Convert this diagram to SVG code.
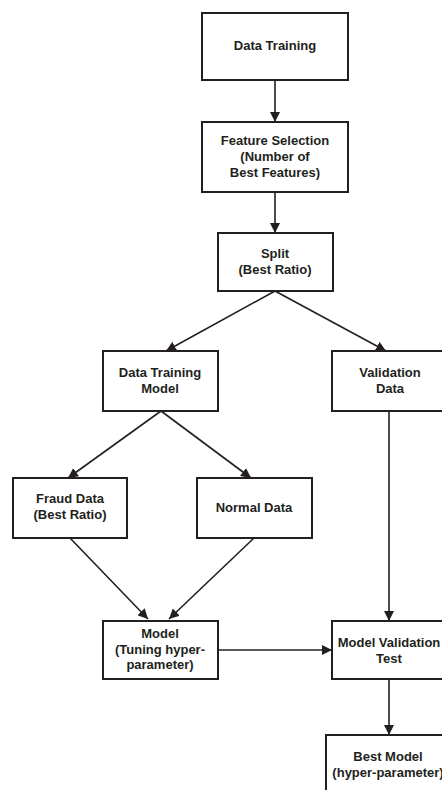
<svg xmlns="http://www.w3.org/2000/svg" width="442" height="790" viewBox="0 0 442 790">
<defs>
<marker id="ah" viewBox="0 0 10 10" refX="10" refY="5" markerWidth="10" markerHeight="10" markerUnits="userSpaceOnUse" orient="auto">
<path d="M0,0 L10,5 L0,10 z" fill="#231f20"/>
</marker>
<style>
.box{fill:#fff;stroke:#231f20;stroke-width:2}
.t{font-family:"Liberation Sans",Arial,sans-serif;font-weight:bold;font-size:13px;fill:#231f20;text-anchor:middle}
.c{stroke:#231f20;stroke-width:1.6;fill:none;marker-end:url(#ah)}
</style>
</defs>
<rect width="442" height="790" fill="#fff"/>
<g id="connectors">
<line class="c" x1="275" y1="80" x2="275" y2="122"/>
<line class="c" x1="275" y1="192" x2="275" y2="233"/>
<line class="c" x1="275" y1="291" x2="166" y2="351"/>
<line class="c" x1="275" y1="291" x2="386" y2="351"/>
<line class="c" x1="161" y1="411" x2="68" y2="478"/>
<line class="c" x1="161" y1="411" x2="251" y2="478"/>
<line class="c" x1="70" y1="538" x2="148" y2="619"/>
<line class="c" x1="254" y1="538" x2="169" y2="619"/>
<line class="c" x1="218" y1="650" x2="332" y2="650"/>
<line class="c" x1="389" y1="411" x2="389" y2="621"/>
<line class="c" x1="389" y1="679" x2="389" y2="735"/>
</g>
<g id="data-training">
<rect class="box" x="202" y="13" width="146" height="67"/>
<text class="t" x="275" y="50">Data Training</text>
</g>
<g id="feature-selection">
<rect class="box" x="202" y="122" width="146" height="70"/>
<text class="t" x="275" y="145">Feature Selection</text>
<text class="t" x="275" y="161">(Number of</text>
<text class="t" x="275" y="177">Best Features)</text>
</g>
<g id="split">
<rect class="box" x="218" y="233" width="115" height="58"/>
<text class="t" x="275" y="258">Split</text>
<text class="t" x="275" y="274">(Best Ratio)</text>
</g>
<g id="data-training-model">
<rect class="box" x="103" y="351" width="115" height="60"/>
<text class="t" x="160" y="377">Data Training</text>
<text class="t" x="160" y="393">Model</text>
</g>
<g id="validation-data">
<rect class="box" x="332" y="351" width="116" height="60"/>
<text class="t" x="390" y="377">Validation</text>
<text class="t" x="390" y="393">Data</text>
</g>
<g id="fraud-data">
<rect class="box" x="13" y="478" width="114" height="60"/>
<text class="t" x="70" y="503">Fraud Data</text>
<text class="t" x="70" y="519">(Best Ratio)</text>
</g>
<g id="normal-data">
<rect class="box" x="197" y="478" width="115" height="60"/>
<text class="t" x="254" y="512">Normal Data</text>
</g>
<g id="model">
<rect class="box" x="103" y="621" width="115" height="58"/>
<text class="t" x="160" y="638">Model</text>
<text class="t" x="160" y="654">(Tuning hyper-</text>
<text class="t" x="160" y="669">parameter)</text>
</g>
<g id="model-validation-test">
<rect class="box" x="332" y="621" width="116" height="58"/>
<text class="t" x="389" y="647">Model Validation</text>
<text class="t" x="389" y="663">Test</text>
</g>
<g id="best-model">
<rect class="box" x="326" y="735" width="126" height="70"/>
<text class="t" x="388" y="761">Best Model</text>
<text class="t" x="388" y="777">(hyper-parameter)</text>
</g>
</svg>
